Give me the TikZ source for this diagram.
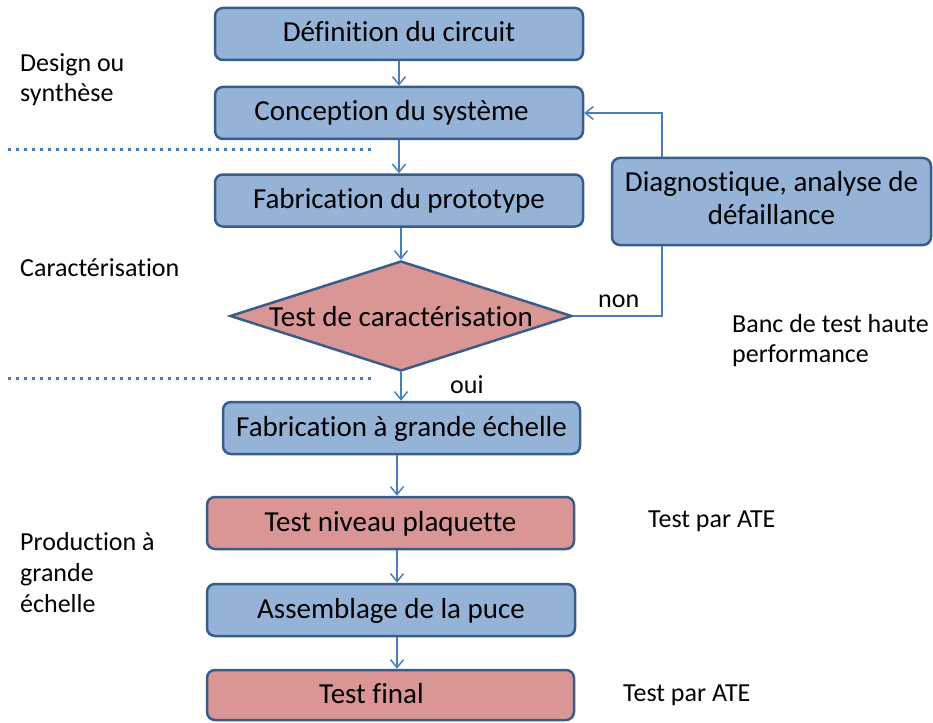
\documentclass[tikz,border=0pt]{standalone}
\usepackage{fontspec}
\setmainfont{Carlito}[RawFeature={-liga}]
\usetikzlibrary{shapes.geometric,arrows.meta}
\definecolor{boxblue}{HTML}{95B3D7}
\definecolor{boxred}{HTML}{D99694}
\definecolor{edgeblue}{HTML}{385D8A}
\definecolor{linkblue}{HTML}{4A7EBB}

\begin{document}
\begin{tikzpicture}[x=1pt,y=-1pt,
  box/.style={draw=edgeblue, line width=2.5pt, rounded corners=8pt,
    minimum height=52pt, inner sep=0pt, text height=19pt, text depth=3pt,
    font=\fontsize{29}{33}\selectfont},
  bluebox/.style={box, fill=boxblue},
  redbox/.style={box, fill=boxred},
  arr/.style={draw=linkblue, line width=1.5pt,
    -{Straight Barb[length=8pt,width=13pt,line width=1.5pt]}},
  loopline/.style={draw=linkblue, line width=1.2pt},
  sepline/.style={draw=linkblue, line width=3pt, dash pattern=on 3pt off 5pt},
  lbl/.style={anchor=base west, inner sep=0pt, font=\fontsize{26}{30}\selectfont},
]
\useasboundingbox (0,0) rectangle (933,722);

% main flow
\node[bluebox, minimum width=368pt] (def)   at (399,34)    {Définition du circuit};
\node[bluebox, minimum width=368pt] (conc)  at (399,113)   {Conception du système\hspace*{15pt}};
\node[bluebox, minimum width=368pt] (fab)   at (399,200.5) {Fabrication du prototype};
\node[diamond, draw=edgeblue, line width=2.5pt, fill=boxred, inner sep=0pt,
      minimum width=342pt, minimum height=110pt] (test) at (401,316) {};
\node[anchor=base, inner sep=0pt, font=\fontsize{29}{33}\selectfont] (testtxt)
      at (401,326) {Test de caractérisation};
\node[bluebox, minimum width=357pt] (fabgr) at (401.5,428) {Fabrication à grande échelle};
\node[redbox,  minimum width=367pt] (plaq)  at (390.5,523) {Test niveau plaquette};
\node[bluebox, minimum width=368pt] (assem) at (391,610)   {Assemblage de la puce};
\node[redbox,  minimum width=367pt, minimum height=50pt] (final) at (390.5,695)
      {Test final\hspace*{38pt}};

% failure analysis box
\node[bluebox, minimum width=319pt, minimum height=87pt, align=center,
      text height=, text depth=] (diag) at (771.5,201.5)
      {\rule{0pt}{24pt}Diagnostique, analyse de\\défaillance\rule[-12pt]{0pt}{12pt}};

% connectors
\coordinate (colx) at (397,0);
\coordinate (loopx) at (662,0);
\draw[arr] (def) -- (conc);
\draw[arr] (conc) -- (fab);
\draw[arr] (fab.south -| test.north) -- (test.north);
\draw[arr] (test.south) -- (test.south |- fabgr.north);
\draw[arr] (fabgr.south -| colx) -- (plaq.north -| colx);
\draw[arr] (plaq.south -| colx) -- (assem.north -| colx);
\draw[arr] (assem.south -| colx) -- (final.north -| colx);
\draw[loopline] (test.east) -| (diag.south -| loopx);
\draw[arr, line width=1.2pt] (diag.north -| loopx) |- (conc.east);

\node[lbl] (non) at (598,307) {non};
\node[lbl] (oui) at (450,393) {oui};

% phase separators
\coordinate (sepAa) at (8,150);
\coordinate (sepAb) at (372,150);
\coordinate (sepBa) at (8,378);
\coordinate (sepBb) at (372,378);
\draw[sepline] (sepAa) -- (sepAb);
\draw[sepline] (sepBa) -- (sepBb);

% phase labels
\node[lbl] (ph1a) at (20,72)  {Design ou};
\node[lbl] (ph1b) at (20,102) {synthèse};
\node[lbl] (ph2)  at (20,276) {Caractérisation};
\node[lbl] (ph3a) at (20,550) {Production à};
\node[lbl] (ph3b) at (20,581) {grande};
\node[lbl] (ph3c) at (20,612) {échelle};

% test means
\node[lbl] (banc1) at (732,332) {Banc de test haute};
\node[lbl] (banc2) at (732,362) {performance};
\node[lbl] (ate1)  at (648,527) {Test par ATE};
\node[lbl] (ate2)  at (623,701) {Test par ATE};
\end{tikzpicture}
\end{document}
